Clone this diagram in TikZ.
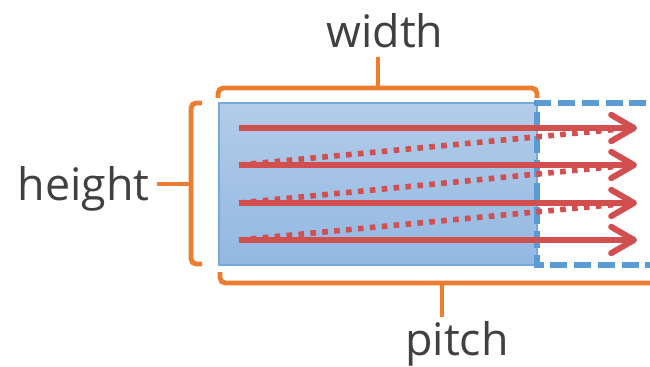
\documentclass[tikz,border=0pt]{standalone}
\usepackage{fontspec}
\setmainfont{Open Sans}
\definecolor{bracket}{HTML}{ED7D31}
\definecolor{scanred}{HTML}{D24F4F}
\definecolor{cellblue}{HTML}{5B9BD5}
\definecolor{celltop}{HTML}{B3CCE9}
\definecolor{cellbot}{HTML}{92B8E2}
\definecolor{labelgray}{HTML}{404040}
\usetikzlibrary{arrows.meta,calc}

\begin{document}
\begin{tikzpicture}[x=0.02cm, y=-0.02cm,
  brace/.style={bracket, line width=2.8pt, rounded corners=3pt},
  scan/.style={scanred, line width=3.4pt, -{Straight Barb[length=13pt,width=15pt,line cap=round,line join=round]}},
  retrace/.style={scanred, line width=3.2pt, dash pattern=on 3.2pt off 3.6pt},
  dim/.style={font=\fontsize{25.5}{30}\selectfont, text=labelgray, inner sep=0pt}]
  \useasboundingbox (0,0) rectangle (650,366);
  \clip (0,0) rectangle (650,366);

  % Cell
  \draw[cellblue!85, line width=0.8pt, top color=celltop, bottom color=cellbot] (219,103) rectangle (537,265);
  % Next cell, dashed
  \draw[cellblue, line width=3.3pt, dash pattern=on 9.7pt off 3.8pt] (670,103) -- (537,103) -- (537,265) -- (670,265);

  % Scan lines and retraces
  \foreach \y [count=\i] in {128,165,203,240} {
    \coordinate (s\i) at (239,\y);
    \coordinate (e\i) at (637,\y);
  }
  \foreach \i/\j in {1/2,2/3,3/4}
    \draw[retrace] (s\j) -- ($(e\i)+(-17,1)$);
  \foreach \i in {1,...,4}
    \draw[scan] (s\i) -- (e\i);

  % Brackets
  \draw[brace] (218,98) -- (218,88) -- (537,88) -- (537,98);
  \draw[brace] (378,88) -- (378,57);
  \draw[brace] (202,103) -- (191,103) -- (191,264) -- (202,264);
  \draw[brace] (191,184) -- (157,184);
  \draw[brace] (220,272) -- (220,283) -- (670,283);
  \draw[brace] (442,283) -- (442,317);

  % Labels
  \node[dim, anchor=base] (width) at (385,47) {width};
  \node[dim, anchor=base east] (height) at (150,200) {height};
  \node[dim, anchor=base] (pitch) at (457,355) {pitch};
\end{tikzpicture}
\end{document}
